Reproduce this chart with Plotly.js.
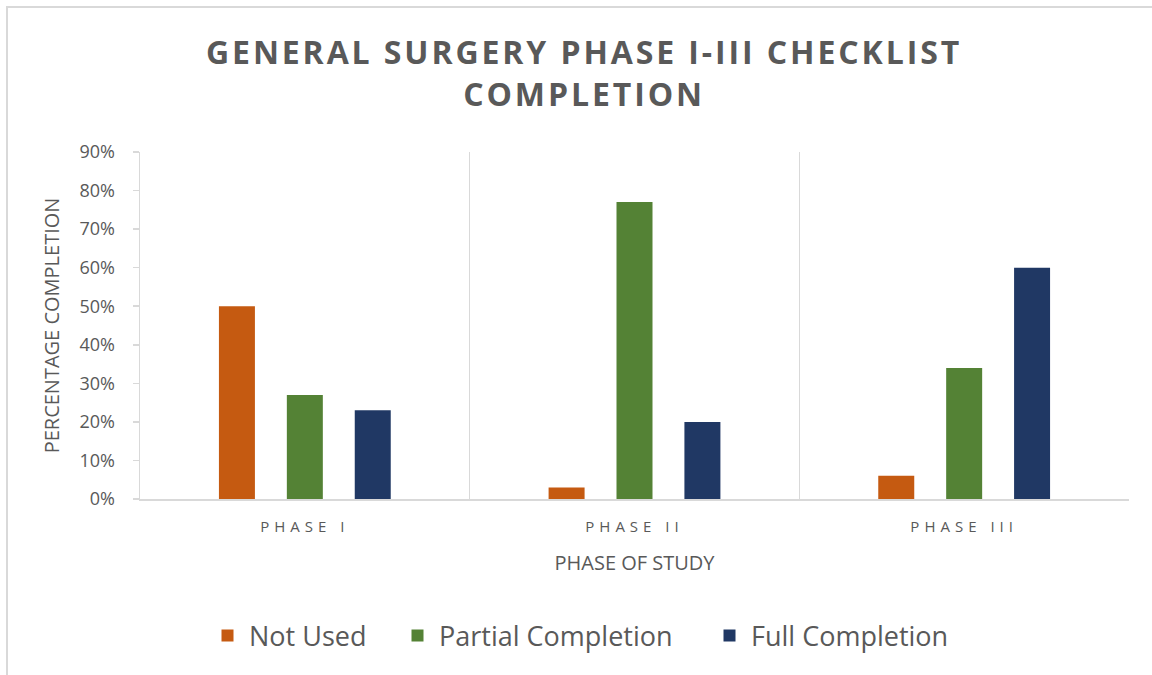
<!DOCTYPE html>
<html>
<head>
<meta charset="utf-8">
<script src="https://cdn.plot.ly/plotly-3.0.1.min.js"></script>
<style>
  html, body { margin: 0; padding: 0; background: #fff; }
  #wrap { position: relative; width: 1152px; height: 675px; }
  #frame { position: absolute; left: 6px; top: 6px; right: -10px; bottom: -10px;
           border-left: 2px solid #d9d9d9; border-top: 2px solid #d9d9d9; pointer-events: none; }
  .gtitle { letter-spacing: 2.9px; }
  .xtick text { letter-spacing: 5px; }
</style>
</head>
<body>
<div id="wrap">
  <div id="chart" style="width:1152px;height:675px;"></div>
  <div id="frame"></div>
</div>
<script>
const categories = ["PHASE I", "PHASE II", "PHASE III"];
const notUsed = [0.50, 0.03, 0.06];
const partialCompletion = [0.27, 0.77, 0.34];
const fullCompletion = [0.23, 0.20, 0.60];
const seriesNames = ["Not Used", "Partial Completion", "Full Completion"];
const seriesColors = ["#C55A11", "#548235", "#203864"];
const yTickVals = [0, 0.1, 0.2, 0.3, 0.4, 0.5, 0.6, 0.7, 0.8, 0.9];

const font = "'Open Sans', 'Noto Sans', sans-serif";
const textColor = "#595959";
const legendIds = ["legend", "legend2", "legend3"];
const legendLeftPx = [222, 412, 724];

const data = [notUsed, partialCompletion, fullCompletion].map((vals, i) => ({
  type: "bar",
  x: categories,
  y: vals,
  name: seriesNames[i],
  legend: legendIds[i],
  marker: { color: seriesColors[i] },
  hoverinfo: "none"
}));

const plotL = 140, plotW = 1152 - 140 - 23, plotT = 152, plotH = 675 - 152 - 176;

function legendDef(px) {
  return {
    orientation: "h",
    x: (px - 16 - plotL) / plotW,
    xanchor: "left",
    y: (plotT + plotH - 636) / plotH,
    yanchor: "middle",
    font: { family: font, size: 27, color: textColor },
    itemwidth: 33,
    bgcolor: "rgba(0,0,0,0)"
  };
}

const layout = {
  width: 1152,
  height: 675,
  paper_bgcolor: "#ffffff",
  plot_bgcolor: "#ffffff",
  margin: { l: 140, r: 23, t: 152, b: 176 },
  barmode: "group",
  bargap: 0.382,
  bargroupgap: 0.47,
  title: {
    text: "GENERAL SURGERY PHASE I-III CHECKLIST<br>COMPLETION",
    font: { family: font, size: 32, color: textColor, weight: "bold" },
    x: 0.507,
    xref: "container",
    xanchor: "center",
    y: 1 - 64 / 675,
    yref: "container",
    yanchor: "middle"
  },
  xaxis: {
    type: "category",
    tickson: "boundaries",
    showgrid: true,
    gridcolor: "#d9d9d9",
    gridwidth: 1.5,
    showline: true,
    linecolor: "#d9d9d9",
    linewidth: 1.5,
    mirror: false,
    ticks: "",
    tickfont: { family: font, size: 15, color: textColor },
    ticklabelstandoff: 13,
    title: {
      text: "PHASE OF STUDY",
      font: { family: font, size: 20, color: textColor },
      standoff: 21
    },
    fixedrange: true
  },
  yaxis: {
    range: [0, 0.9],
    tickvals: yTickVals,
    tickformat: ".0%",
    showgrid: false,
    zeroline: false,
    showline: true,
    linecolor: "#d9d9d9",
    linewidth: 1.5,
    ticks: "outside",
    ticklen: 6,
    tickcolor: "#d9d9d9",
    tickwidth: 1.5,
    ticklabelstandoff: 14,
    tickfont: { family: font, size: 18, color: textColor },
    title: {
      text: "PERCENTAGE COMPLETION",
      font: { family: font, size: 20, color: textColor },
      standoff: 14
    },
    fixedrange: true
  },
  showlegend: true,
  legend: legendDef(legendLeftPx[0]),
  legend2: legendDef(legendLeftPx[1]),
  legend3: legendDef(legendLeftPx[2])
};

Plotly.newPlot("chart", data, layout, { displayModeBar: false, staticPlot: true });
</script>
</body>
</html>
